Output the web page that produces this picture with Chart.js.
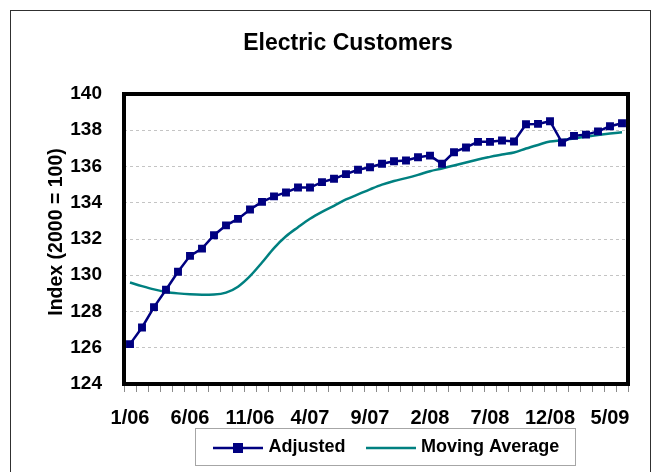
<!DOCTYPE html>
<html>
<head>
<meta charset="utf-8">
<title>Electric Customers</title>
<script src="https://cdn.jsdelivr.net/npm/chart.js@4.4.0/dist/chart.umd.min.js"></script>
<style>
  html, body { margin: 0; padding: 0; background: #ffffff; }
  #wrap { position: relative; width: 658px; height: 472px; }
  canvas { display: block; }
</style>
</head>
<body>
<div id="wrap"><canvas id="chart" width="658" height="472"></canvas></div>
<script>
// Monthly periods, January 2006 through June 2009
const months = [
  '1/06','2/06','3/06','4/06','5/06','6/06','7/06','8/06','9/06','10/06','11/06','12/06',
  '1/07','2/07','3/07','4/07','5/07','6/07','7/07','8/07','9/07','10/07','11/07','12/07',
  '1/08','2/08','3/08','4/08','5/08','6/08','7/08','8/08','9/08','10/08','11/08','12/08',
  '1/09','2/09','3/09','4/09','5/09','6/09'
];

// Category labels printed along the horizontal axis
const shownLabels = ['1/06','6/06','11/06','4/07','9/07','2/08','7/08','12/08','5/09'];

// Seasonally adjusted customer index (2000 = 100)
const adjusted = [
  126.20, 127.12, 128.24, 129.20, 130.19, 131.07, 131.47, 132.21, 132.75, 133.11, 133.63, 134.05,
  134.35, 134.57, 134.84, 134.84, 135.14, 135.32, 135.58, 135.82, 135.96, 136.15, 136.29, 136.33,
  136.51, 136.60, 136.15, 136.79, 137.05, 137.36, 137.36, 137.43, 137.38, 138.33, 138.35, 138.50,
  137.32, 137.69, 137.76, 137.94, 138.22, 138.39
];

// Moving average of the index
const movingAverage = [
  129.60, 129.40, 129.22, 129.08, 129.00, 128.95, 128.93, 128.94, 129.04, 129.37, 129.95, 130.70,
  131.50, 132.15, 132.65, 133.12, 133.50, 133.83, 134.18, 134.46, 134.74, 135.00, 135.20, 135.36,
  135.54, 135.74, 135.89, 136.06, 136.22, 136.39, 136.53, 136.66, 136.77, 136.99, 137.19, 137.38,
  137.45, 137.54, 137.65, 137.74, 137.82, 137.89
];

const chartTitle = 'Electric Customers';
const yAxisTitle = 'Index (2000 = 100)';

const FONT = '"Liberation Sans", Arial, Helvetica, sans-serif';
const NAVY = '#000080';
const TEAL = '#008080';

// Outer frame, titles, heavy plot-area border and the boxed legend
const decorations = {
  id: 'decorations',
  afterDraw(chart) {
    const ctx = chart.ctx;
    const a = chart.chartArea;
    ctx.save();

    // outer frame of the whole chart
    ctx.strokeStyle = '#303030';
    ctx.lineWidth = 1;
    ctx.strokeRect(10.5, 10.5, 640, 480);

    // chart title
    ctx.fillStyle = '#000000';
    ctx.textAlign = 'center';
    ctx.textBaseline = 'middle';
    ctx.font = 'bold 23px ' + FONT;
    ctx.fillText(chartTitle, 348, 44);

    // vertical axis title
    ctx.save();
    ctx.translate(56.5, 232);
    ctx.rotate(-Math.PI / 2);
    ctx.font = 'bold 19.5px ' + FONT;
    ctx.fillText(yAxisTitle, 0, 0);
    ctx.restore();

    // plot-area border
    ctx.strokeStyle = '#000000';
    ctx.lineWidth = 4;
    ctx.strokeRect(a.left, a.top, a.right - a.left, a.bottom - a.top);

    // legend
    ctx.strokeStyle = '#a6a6a6';
    ctx.lineWidth = 1;
    ctx.strokeRect(195.5, 428.5, 380, 37);

    const ds = chart.data.datasets;
    const yLine = 448;
    ctx.font = 'bold 18px ' + FONT;
    ctx.textBaseline = 'middle';
    ctx.textAlign = 'left';

    // Adjusted: line with square marker
    ctx.strokeStyle = ds[0].borderColor;
    ctx.lineWidth = 2.5;
    ctx.beginPath();
    ctx.moveTo(213, yLine);
    ctx.lineTo(263, yLine);
    ctx.stroke();
    ctx.fillStyle = ds[0].pointBackgroundColor;
    ctx.fillRect(233, yLine - 5, 10, 10);
    ctx.fillStyle = '#000000';
    ctx.fillText(ds[0].label, 268.5, 447);

    // Moving Average: plain line
    ctx.strokeStyle = ds[1].borderColor;
    ctx.lineWidth = 2.5;
    ctx.beginPath();
    ctx.moveTo(366, yLine);
    ctx.lineTo(416, yLine);
    ctx.stroke();
    ctx.fillStyle = '#000000';
    ctx.fillText(ds[1].label, 421, 447);

    ctx.restore();
  }
};

new Chart(document.getElementById('chart'), {
  type: 'line',
  data: {
    labels: months,
    datasets: [
      {
        label: 'Adjusted',
        data: adjusted,
        borderColor: NAVY,
        backgroundColor: NAVY,
        pointBackgroundColor: NAVY,
        pointBorderColor: NAVY,
        borderWidth: 2.5,
        pointStyle: 'rect',
        pointRadius: 5.6,
        pointBorderWidth: 0,
        tension: 0,
        order: 1
      },
      {
        label: 'Moving Average',
        data: movingAverage,
        borderColor: TEAL,
        backgroundColor: TEAL,
        borderWidth: 2.5,
        pointRadius: 0,
        cubicInterpolationMode: 'monotone',
        order: 2
      }
    ]
  },
  options: {
    responsive: false,
    animation: false,
    devicePixelRatio: 1,
    layout: { padding: { left: 0, right: 30, top: 94, bottom: 0 } },
    plugins: {
      legend: { display: false },
      tooltip: { enabled: false },
      title: { display: false }
    },
    scales: {
      x: {
        type: 'category',
        offset: true,
        afterFit: (scale) => { scale.height = 88; },
        grid: {
          display: true,
          offset: true,
          drawOnChartArea: false,
          drawTicks: true,
          tickLength: 8,
          color: '#8c8c8c',
          lineWidth: 1
        },
        border: { display: false },
        ticks: {
          autoSkip: false,
          maxRotation: 0,
          minRotation: 0,
          padding: 14,
          color: '#000000',
          font: { family: FONT, size: 20, weight: 'bold' },
          callback: function (value) {
            const lbl = this.getLabelForValue(value);
            return shownLabels.includes(lbl) ? lbl : '';
          }
        }
      },
      y: {
        min: 124,
        max: 140,
        afterFit: (scale) => { scale.width = 124; },
        grid: {
          display: true,
          drawTicks: false,
          color: (ctx) => (ctx.tick && (ctx.tick.value === 124 || ctx.tick.value === 140)) ? 'rgba(0,0,0,0)' : '#c4c4c4',
          lineWidth: 1
        },
        border: { display: false, dash: [3, 3] },
        ticks: {
          stepSize: 2,
          padding: 22,
          color: '#000000',
          font: { family: FONT, size: 19, weight: 'bold' }
        },
        title: { display: false }
      }
    }
  },
  plugins: [decorations]
});
</script>
</body>
</html>
